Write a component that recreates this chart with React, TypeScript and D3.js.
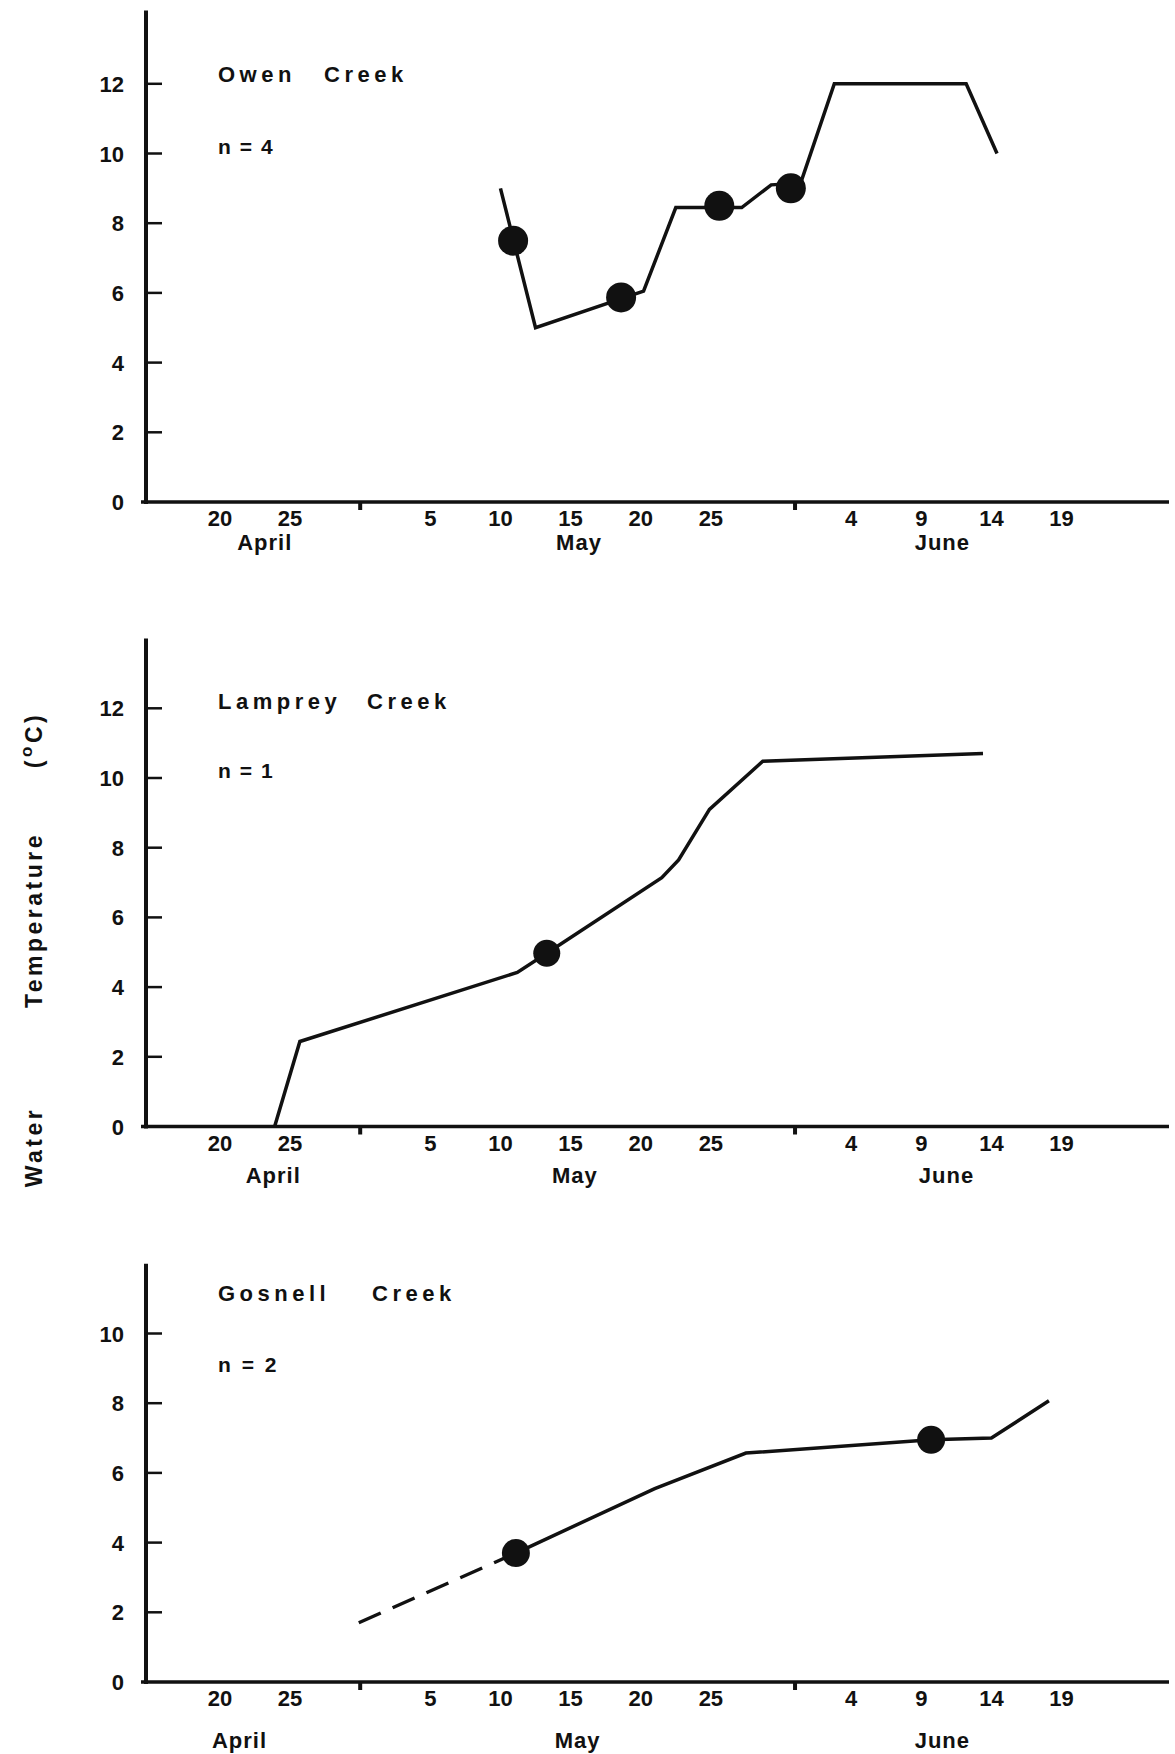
import React from 'react'
import * as d3 from 'd3'

// ---- data (month, day of month, water temperature °C) ----
type Pt = [number, number, number]

const dayTickDates: [number, number][] = [
  [4, 20], [4, 25], [5, 5], [5, 10], [5, 15], [5, 20], [5, 25], [6, 4], [6, 9], [6, 14], [6, 19]
]
const monthEndTicks: [number, number][] = [[4, 30], [5, 31]]
const monthNames = ['April', 'May', 'June']

const owenLine: Pt[] = [
  [5, 10, 9.0], [5, 12.5, 5.0], [5, 20.2, 6.05], [5, 22.5, 8.45], [5, 27.2, 8.45],
  [5, 29.3, 9.1], [5, 31.4, 9.15], [6, 2.8, 12.0], [6, 12.2, 12.0], [6, 14.4, 10.0]
]
const owenDots: Pt[] = [[5, 10.9, 7.5], [5, 18.6, 5.87], [5, 25.6, 8.5], [5, 30.7, 9.0]]

const lampreyLine: Pt[] = [
  [4, 23.9, 0], [4, 25.7, 2.44], [5, 11.2, 4.42], [5, 13.3, 4.97], [5, 21.5, 7.14],
  [5, 22.7, 7.65], [5, 24.9, 9.1], [5, 28.7, 10.48], [6, 13.4, 10.7]
]
const lampreyDots: Pt[] = [[5, 13.3, 4.97]]

const gosnellDashed: Pt[] = [[4, 29.9, 1.7], [5, 11.1, 3.7]]
const gosnellLine: Pt[] = [
  [5, 11.1, 3.7], [5, 21, 5.55], [5, 27.5, 6.57], [6, 9.7, 6.95], [6, 14, 7.0], [6, 18.1, 8.07]
]
const gosnellDots: Pt[] = [[5, 11.1, 3.7], [6, 9.7, 6.95]]

const titles = [['Owen', 'Creek'], ['Lamprey', 'Creek'], ['Gosnell', 'Creek']]
const sampleSizes = ['n=4', 'n=1', 'n = 2']
const yMaxes = [14.1, 14.0, 12.0]
const yTickSets = [[0, 2, 4, 6, 8, 10, 12], [0, 2, 4, 6, 8, 10, 12], [0, 2, 4, 6, 8, 10]]
const monthLabelDays: [number, number][][] = [
  [[4, 23.2], [5, 15.6], [6, 10.5]],
  [[4, 23.8], [5, 15.3], [6, 10.8]],
  [[4, 21.4], [5, 15.5], [6, 10.5]]
]

// ---- layout ----
const W = 1175
const H = 1754
const axisX = 146
const axisRight = 1169
const pxPerUnit = 34.85
const zeroYs = [502, 1126.5, 1682]
const monthLabelDy = [48, 56, 66]
const titleYs = [82, 709, 1301]
const nYs = [154, 778, 1372]
const creekXs = [324, 367, 372]
const nSpacing = [9, 9, 2.5]
const dotR = [15, 13.5, 14]
const font = '"Liberation Sans", Arial, Helvetica, sans-serif'
const ink = '#111'

const day = (m: number, d: number) => new Date(Date.UTC(1977, m - 1, 1) + (d - 1) * 864e5)

const x = d3.scaleUtc().domain([day(4, 14.73), day(6, 26.66)]).range([axisX, axisRight])

const panels = [
  { solid: owenLine, dashed: [] as Pt[], dots: owenDots },
  { solid: lampreyLine, dashed: [] as Pt[], dots: lampreyDots },
  { solid: gosnellLine, dashed: gosnellDashed, dots: gosnellDots }
]

function Panel({ i }: { i: number }) {
  const p = panels[i]
  const y0 = zeroYs[i]
  const y = d3.scaleLinear().domain([0, yMaxes[i]]).range([y0, y0 - yMaxes[i] * pxPerUnit])
  const line = d3.line<Pt>().x(d => x(day(d[0], d[1]))).y(d => y(d[2]))

  return (
    <g fontFamily={font} fontWeight="bold" fill={ink}>
      {/* axes */}
      <line x1={axisX} x2={axisX} y1={y0 + 2} y2={y(yMaxes[i])} stroke={ink} strokeWidth={4} />
      <line x1={axisX - 5} x2={axisRight} y1={y0} y2={y0} stroke={ink} strokeWidth={3.5} />
      {yTickSets[i].map(t => (
        <g key={t}>
          {t > 0 && <line x1={axisX} x2={axisX + 16} y1={y(t)} y2={y(t)} stroke={ink} strokeWidth={2.5} />}
          <text x={124} y={y(t) + 8} textAnchor="end" fontSize={22}>{t}</text>
        </g>
      ))}
      {monthEndTicks.map(([m, d]) => (
        <line key={m} x1={x(day(m, d))} x2={x(day(m, d))} y1={y0} y2={y0 + 8} stroke={ink} strokeWidth={4} />
      ))}
      {dayTickDates.map(([m, d]) => (
        <text key={`${m}-${d}`} x={x(day(m, d))} y={y0 + 24} textAnchor="middle" fontSize={22}>{d}</text>
      ))}
      {monthLabelDays[i].map(([m, d], k) => (
        <text key={m} x={x(day(m, d))} y={y0 + monthLabelDy[i]} textAnchor="middle" fontSize={22} letterSpacing={1}>
          {monthNames[k]}
        </text>
      ))}

      {/* labels */}
      <text x={218} y={titleYs[i]} fontSize={22} letterSpacing={4.5}>{titles[i][0]}</text>
      <text x={creekXs[i]} y={titleYs[i]} fontSize={22} letterSpacing={4.5}>{titles[i][1]}</text>
      <text x={218} y={nYs[i]} fontSize={21} letterSpacing={nSpacing[i]} xmlSpace="preserve">{sampleSizes[i]}</text>

      {/* series */}
      {p.dashed.length > 0 && (
        <path d={line(p.dashed) || ''} fill="none" stroke={ink} strokeWidth={3.5} strokeDasharray="24,13" />
      )}
      <path d={line(p.solid) || ''} fill="none" stroke={ink} strokeWidth={3.5} strokeLinejoin="miter" />
      {p.dots.map((d, k) => (
        <circle key={k} cx={x(day(d[0], d[1]))} cy={y(d[2])} r={dotR[i]} fill={ink} />
      ))}
    </g>
  )
}

export default function App() {
  return (
    <svg width={W} height={H} style={{ position: 'absolute', left: 0, top: 0, background: '#fff' }}>
      <rect width={W} height={H} fill="#fff" />
      {[0, 1, 2].map(i => <Panel key={i} i={i} />)}
      <g fontFamily={font} fontWeight="bold" fill={ink} fontSize={23} letterSpacing={3.5}>
        <text transform="translate(34,1147) rotate(-90)" textAnchor="middle" dominantBaseline="central">Water</text>
        <text transform="translate(34,920) rotate(-90)" textAnchor="middle" dominantBaseline="central">Temperature</text>
        <text transform="translate(34,740) rotate(-90)" textAnchor="middle" dominantBaseline="central">
          (<tspan dy={-8} fontSize={17}>o</tspan><tspan dy={8}>C</tspan>)
        </text>
      </g>
    </svg>
  )
}
